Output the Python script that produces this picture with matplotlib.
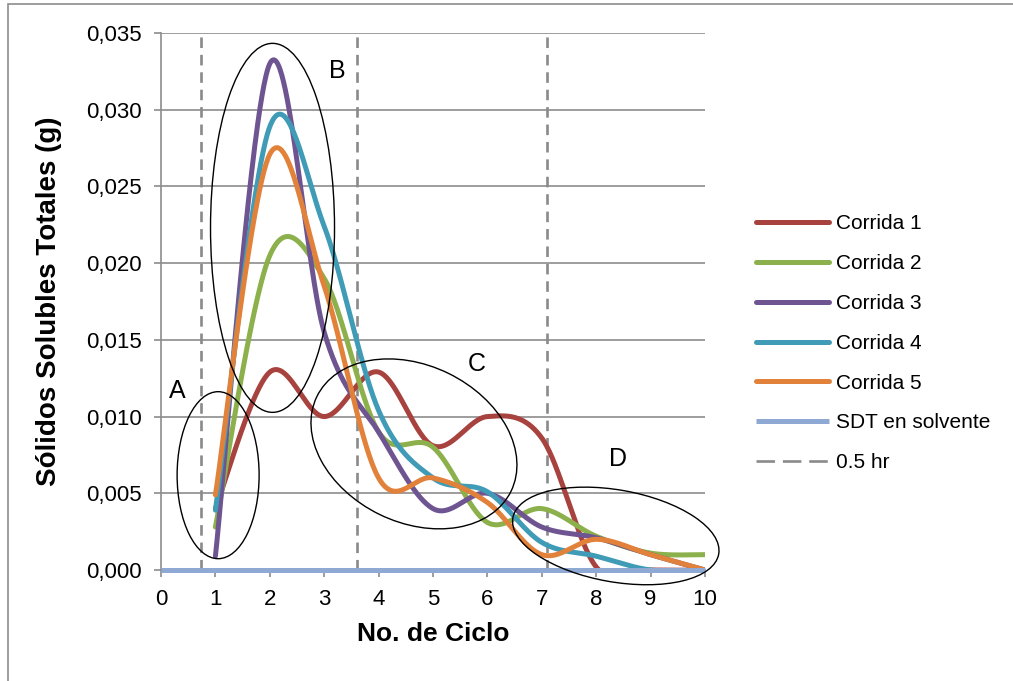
import numpy as np
import matplotlib
matplotlib.use("Agg")
import matplotlib.pyplot as plt
from matplotlib.patches import Ellipse, Rectangle
from matplotlib.transforms import Affine2D
from matplotlib.lines import Line2D

plt.rcParams['font.family'] = ['Liberation Sans', 'DejaVu Sans']

# Data: soluble solids per extraction cycle
ciclos = [1, 2, 3, 4, 5, 6, 7, 8, 9, 10]
corrida_1 = [0.0040, 0.0129, 0.0100, 0.0129, 0.0081, 0.0100, 0.0086, 0.0002, 0.0000, 0.0000]
corrida_2 = [0.0028, 0.0205, 0.0190, 0.0090, 0.0080, 0.0031, 0.0040, 0.0022, 0.0011, 0.0010]
corrida_3 = [0.0009, 0.0330, 0.0155, 0.0090, 0.0040, 0.0050, 0.0028, 0.0021, 0.0010, 0.0000]
corrida_4 = [0.0039, 0.0289, 0.0224, 0.0104, 0.0060, 0.0051, 0.0018, 0.0009, 0.0000, 0.0000]
corrida_5 = [0.0049, 0.0271, 0.0185, 0.0060, 0.0060, 0.0044, 0.0010, 0.0020, 0.0010, 0.0000]
sdt_x = [0, 1, 2, 3, 4, 5, 6, 7, 8, 9, 10]
sdt_solvente = [0.0, 0.0, 0.0, 0.0, 0.0, 0.0, 0.0, 0.0, 0.0, 0.0, 0.0]
marcas_05hr = [0.73, 3.61, 7.10]

series = [
    ("Corrida 1", corrida_1, "#A8423F"),
    ("Corrida 2", corrida_2, "#8CB04B"),
    ("Corrida 3", corrida_3, "#6E5592"),
    ("Corrida 4", corrida_4, "#3F9BB6"),
    ("Corrida 5", corrida_5, "#E2823A"),
]


def smooth(x, y, n=60):
    """Cubic Bezier smoothing through every point (Catmull-Rom tangents)."""
    p = np.column_stack([x, y]).astype(float)
    out = []
    t = np.linspace(0, 1, n)[:, None]
    for i in range(len(p) - 1):
        p0 = p[i - 1] if i > 0 else p[i]
        p1, p2 = p[i], p[i + 1]
        p3 = p[i + 2] if i + 2 < len(p) else p[i + 1]
        c1 = p1 + (p2 - p0) / 6.0
        c2 = p2 - (p3 - p1) / 6.0
        seg = ((1 - t) ** 3) * p1 + 3 * ((1 - t) ** 2) * t * c1 + 3 * (1 - t) * t ** 2 * c2 + t ** 3 * p2
        out.append(seg if i == 0 else seg[1:])
    s = np.vstack(out)
    return s[:, 0], s[:, 1]


W, H, DPI = 1013, 681, 100
fig = plt.figure(figsize=(W / DPI, H / DPI), dpi=DPI)
L, R, B, T = 161, 705, 570, 33
ax = fig.add_axes([L / W, 1 - B / H, (R - L) / W, (B - T) / H])

# outer chart frame
fig.patches.append(Rectangle((8 / W, -0.1), 1.2, 1.1 - 4 / H, transform=fig.transFigure,
                             fill=False, edgecolor="#8c8c8c", linewidth=1.2))

ax.set_xlim(0, 10)
ax.set_ylim(0, 0.035)
yt = np.arange(0, 0.0351, 0.005)
ax.set_yticks(yt)
ax.set_yticklabels([f"{v:.3f}".replace(".", ",") for v in yt])
ax.set_xticks(range(0, 11))
ax.yaxis.grid(True, color="#8c8c8c", linewidth=1.2)
ax.set_axisbelow(True)
for s in ("top", "right"):
    ax.spines[s].set_visible(False)
for s in ("left", "bottom"):
    ax.spines[s].set_color("#8c8c8c")
    ax.spines[s].set_linewidth(1.2)
ax.tick_params(axis="both", colors="#8c8c8c", labelcolor="black", labelsize=16,
               length=5, width=1.2, direction="out", pad=9)

gray = "#8a8a8a"
for xv in marcas_05hr:
    ax.plot([xv, xv], [0, 0.035], color=gray, linewidth=1.9, dashes=(4, 2.6),
            solid_capstyle="butt", dash_capstyle="butt", zorder=2)

handles = []
for name, vals, col in series:
    sx, sy = smooth(ciclos, vals)
    ln, = ax.plot(sx, sy, color=col, linewidth=3.6, solid_capstyle="round",
                  solid_joinstyle="round", label=name, zorder=3)
    handles.append(ln)
blue, = ax.plot(sdt_x, sdt_solvente, color="#8EA9D3", linewidth=3.6, label="SDT en solvente",
                solid_capstyle="butt", zorder=4, clip_on=False)
handles.append(blue)
handles.append(Line2D([], [], color=gray, linewidth=1.9, dashes=(7, 3), label="0.5 hr"))

# ellipses drawn in pixel units around the data centres
px_x = (R - L) / 10.0
px_y = (B - T) / 0.035
ellipses = [
    (1.05, 0.00618, 82, 167, 0),
    (2.05, 0.0223, 124, 369, 0),
    (4.65, 0.00822, 216, 157, -26),
    (8.36, 0.00222, 209, 92, -10),
]
for cx, cy, w, h, ang in ellipses:
    tr = Affine2D().scale(1 / px_x, 1 / px_y).translate(cx, cy) + ax.transData
    ax.add_patch(Ellipse((0, 0), w, h, angle=ang, transform=tr, fill=False,
                         edgecolor="black", linewidth=1.0, zorder=5, clip_on=False))

for txt, xx, yy in [("A", 0.29, 0.01167), ("B", 3.24, 0.03254), ("C", 5.81, 0.01343), ("D", 8.40, 0.00724)]:
    ax.text(xx, yy, txt, fontsize=18, ha="center", va="center", zorder=6)

ax.set_xlabel("No. de Ciclo", fontsize=19, fontweight="bold", labelpad=8)
ax.set_ylabel("Sólidos Solubles Totales (g)", fontsize=20, fontweight="bold", labelpad=17)

leg = fig.legend(handles=handles, loc="upper left", bbox_to_anchor=(748 / W, 1 - 206 / H),
                 frameon=False, fontsize=15, handlelength=3.5, handletextpad=0.3,
                 labelspacing=1.0, borderaxespad=0)

fig.savefig("out.png", dpi=DPI)
